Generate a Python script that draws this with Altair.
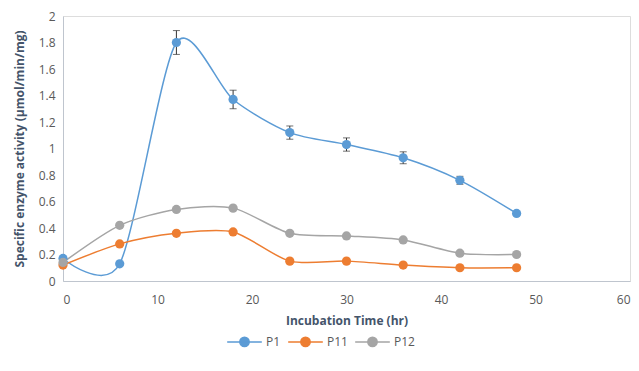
import altair as alt
import pandas as pd

hours = [0, 6, 12, 18, 24, 30, 36, 42, 48]
p1 = [0.17, 0.13, 1.80, 1.37, 1.12, 1.03, 0.93, 0.76, 0.51]
p11 = [0.12, 0.28, 0.36, 0.37, 0.15, 0.15, 0.12, 0.10, 0.10]
p12 = [0.14, 0.42, 0.54, 0.55, 0.36, 0.34, 0.31, 0.21, 0.20]
p1_err = [0.0, 0.0, 0.09, 0.07, 0.05, 0.05, 0.045, 0.03, 0.015]

series = ["P1", "P11", "P12"]
colors = ["#5B9BD5", "#ED7D31", "#A5A5A5"]

rows = []
for name, vals in zip(series, [p1, p11, p12]):
    for h, v in zip(hours, vals):
        rows.append({"hour": h, "value": v, "series": name})
df = pd.DataFrame(rows)

err = pd.DataFrame({
    "hour": hours,
    "lo": [v - e for v, e in zip(p1, p1_err)],
    "hi": [v + e for v, e in zip(p1, p1_err)],
    "err": p1_err,
})
err = err[err["err"] > 0]

font = "Open Sans"
text_col = "#595959"
title_col = "#44546A"
axis_col = "#BFC5CE"

x_axis = alt.Axis(values=[0, 10, 20, 30, 40, 50, 60], title="Incubation Time (hr)",
                  grid=False, ticks=False, labelPadding=13, titlePadding=10,
                  domainColor=axis_col, labelColor=text_col, titleColor=title_col,
                  labelFont=font, titleFont=font, labelFontSize=12, titleFontSize=12,
                  titleFontWeight="bold", labelOverlap=False)
y_axis = alt.Axis(values=[0, 0.2, 0.4, 0.6, 0.8, 1, 1.2, 1.4, 1.6, 1.8, 2],
                  format=".1~f", title="Specific enzyme activity (µmol/min/mg)",
                  grid=False, ticks=False, labelPadding=8, titlePadding=12,
                  domainColor=axis_col, labelColor=text_col, titleColor=title_col,
                  labelFont=font, titleFont=font, labelFontSize=12, titleFontSize=12,
                  titleFontWeight="bold", labelOverlap=False)
x_scale = alt.Scale(domain=[0, 60], nice=False)
y_scale = alt.Scale(domain=[0, 2], nice=False)

x = alt.X("hour:Q", scale=x_scale, axis=x_axis)
y = alt.Y("value:Q", scale=y_scale, axis=y_axis)

color = alt.Color("series:N", scale=alt.Scale(domain=series, range=colors),
                  legend=alt.Legend(title=None, orient="none", direction="horizontal",
                                    legendX=163, legendY=307,
                                    symbolType="M-1,0H1M-0.27,0A0.27,0.27,0,1,1,0.27,0A0.27,0.27,0,1,1,-0.27,0Z",
                                    symbolSize=1200, symbolStrokeWidth=1.5,
                                    labelFont=font, labelFontSize=12, labelColor=text_col,
                                    columnPadding=4, labelOffset=3))

lines = alt.Chart(df).mark_line(interpolate="cardinal", tension=0.2, strokeWidth=1.5).encode(
    x=x, y=y, color=color)
points = alt.Chart(df).mark_point(filled=True, size=85, opacity=1).encode(
    x=x, y=y, color=color)
bars = alt.Chart(err).mark_errorbar(ticks=alt.MarkConfig(size=7), color="#333333", thickness=1).encode(
    x=x, y=alt.Y("lo:Q", scale=y_scale, axis=y_axis), y2="hi:Q")

chart = alt.layer(lines, bars, points).properties(
    width=567, height=265,
    autosize=alt.AutoSizeParams(type="none"),
    padding={"left": 55, "top": 8, "right": 1, "bottom": 90},
).configure_view(stroke=None).configure(background="white")

chart.save("out.html", embed_options={"renderer": "svg", "actions": False})
